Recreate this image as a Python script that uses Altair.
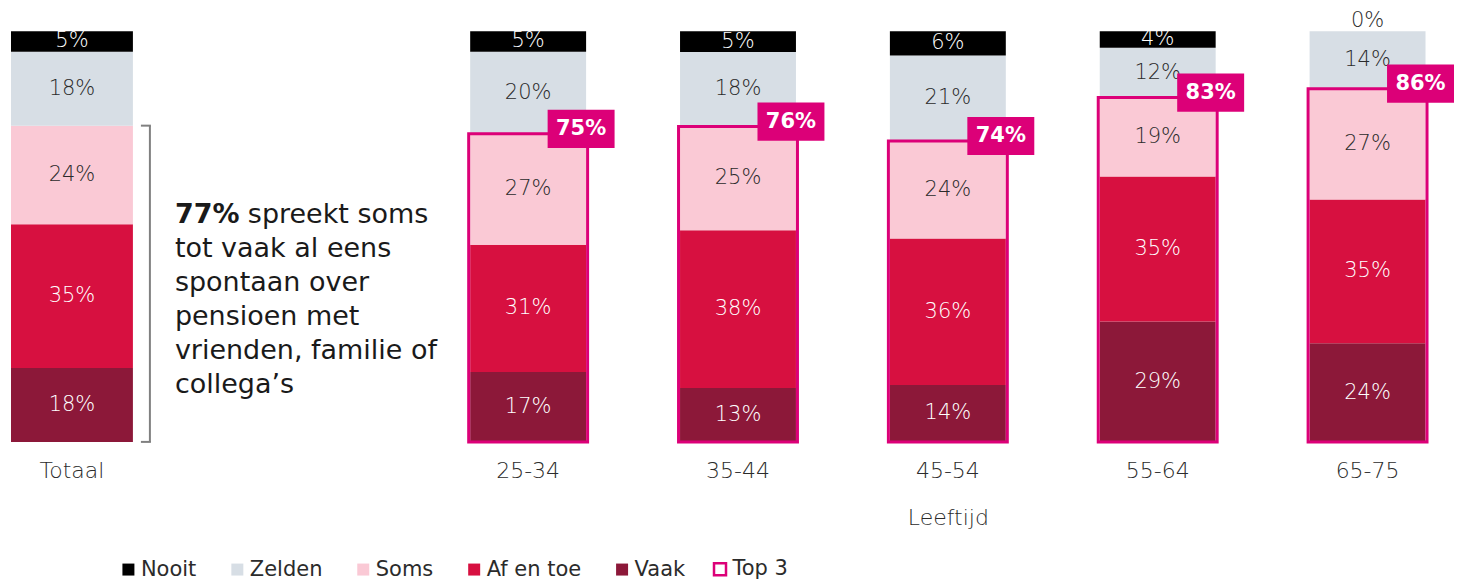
import altair as alt
import pandas as pd

FONT = "DejaVu Sans"
LIGHT = 200

groups = ["Totaal", "25-34", "35-44", "45-54", "55-64", "65-75"]
age_groups = groups[1:]
stack_order = ["Vaak", "Af en toe", "Soms", "Zelden", "Nooit"]   # bottom -> top
legend_order = ["Nooit", "Zelden", "Soms", "Af en toe", "Vaak"]
seg_colors = ["#000000", "#D7DEE5", "#FAC9D5", "#D71040", "#8C1839"]
MAGENTA = "#DC0078"

vaak      = [18, 17, 13, 14, 29, 24]
af_en_toe = [35, 31, 38, 36, 35, 35]
soms      = [24, 27, 25, 24, 19, 27]
zelden    = [18, 20, 18, 21, 12, 14]
nooit     = [5, 5, 5, 6, 4, 0]
top3      = [75, 76, 74, 83, 86]
total_top3 = 77

annotation_bold = "77%"
annotation_first = "spreekt soms"
annotation_lines = ["tot vaak al eens", "spontaan over", "pensioen met",
                    "vrienden, familie of", "collega\u2019s"]
legend_top3 = "Top 3"
axis_title = "Leeftijd"

series = {"Vaak": vaak, "Af en toe": af_en_toe, "Soms": soms,
          "Zelden": zelden, "Nooit": nooit}
dark_cats = ("Nooit", "Af en toe", "Vaak")
rows = []
totals = {}
for gi, g in enumerate(groups):
    tot = sum(series[c][gi] for c in stack_order)
    totals[g] = tot
    cum = 0
    for oi, c in enumerate(stack_order):
        v = series[c][gi]
        rows.append(dict(group=g, category=c, value=v, order=oi,
                         y0=cum / tot, y1=(cum + v) / tot,
                         mid=(cum + v / 2) / tot, label=f"{v}%",
                         dark=c in dark_cats))
        cum += v
df = pd.DataFrame(rows)
df_left = df[df.group == "Totaal"]
df_right = df[df.group != "Totaal"]

df_top3 = pd.DataFrame({
    "group": age_groups,
    "top3": top3,
    "pos": [t / totals[g] for t, g in zip(top3, age_groups)],
    "label": [f"{t}%" for t in top3],
    "key": [legend_top3] * len(top3),
})

ysc = alt.Scale(domain=[0, 1], nice=False)
color_scale = alt.Scale(domain=legend_order, range=seg_colors)
label_color = alt.condition("datum.dark", alt.value("#FFFFFF"), alt.value("#2B2B2B"))

axis_common = dict(labelAngle=0, labelFontSize=22, labelFont=FONT, labelColor="#2B2B2B",
                   labelFontWeight=LIGHT, ticks=False, domain=False, labelPadding=19,
                   grid=False)
legend_common = dict(title=None, orient="none", symbolType="square", symbolSize=144,
                     labelFontSize=21, labelFont=FONT, labelColor="#2B2B2B",
                     labelOffset=2)

# ---------- left panel (Totaal + annotation) ----------
xl = alt.X("group:N", scale=alt.Scale(domain=["Totaal"], paddingInner=0, paddingOuter=0),
           axis=alt.Axis(title=None, **axis_common))

bars_l = alt.Chart(df_left).mark_bar(size=122).encode(
    x=xl,
    y=alt.Y("y0:Q", scale=ysc, axis=None),
    y2="y1:Q",
    color=alt.Color("category:N", scale=color_scale,
                    legend=alt.Legend(legendX=110, legendY=528, direction="horizontal",
                                      symbolStrokeWidth=0, columnPadding=30,
                                      **legend_common)),
)
labels_l = alt.Chart(df_left).transform_filter("datum.value > 0").mark_text(
    font=FONT, fontSize=21, fontWeight=LIGHT).encode(
    x=xl, y=alt.Y("mid:Q", scale=ysc), text="label:N", color=label_color)

df_br = pd.DataFrame({"y0": [0.0], "y1": [total_top3 / 100]})
df_ends = pd.DataFrame({"y": [0.0, total_top3 / 100]})
br_v = alt.Chart(df_br).mark_rule(color="#808080", strokeWidth=2).encode(
    x=alt.value(142), y="y0:Q", y2="y1:Q")
br_e = alt.Chart(df_ends).mark_rule(color="#808080", strokeWidth=2).encode(
    x=alt.value(133), x2=alt.value(143), y="y:Q")

ANN_SIZE = 27
t_bold = alt.Chart(pd.DataFrame({"t": [annotation_bold]})).mark_text(
    align="left", baseline="middle", font=FONT, fontSize=ANN_SIZE, fontWeight="bold",
    color="#1a1a1a").encode(x=alt.value(167), y=alt.value(184), text="t:N")
t_first = alt.Chart(pd.DataFrame({"t": [annotation_first]})).mark_text(
    align="left", baseline="middle", font=FONT, fontSize=ANN_SIZE,
    color="#1a1a1a").encode(x=alt.value(240), y=alt.value(184), text="t:N")
t_rest = alt.Chart(pd.DataFrame({"t": [0]})).mark_text(
    align="left", baseline="middle", font=FONT, fontSize=ANN_SIZE, lineHeight=34,
    color="#1a1a1a", text=annotation_lines).encode(x=alt.value(167), y=alt.value(218))

left = alt.layer(bars_l, labels_l, br_v, br_e, t_bold, t_first, t_rest).properties(
    width=128, height=411)

# ---------- right panel (age groups) ----------
xr = alt.X("group:N", scale=alt.Scale(domain=age_groups, paddingInner=0.4476, paddingOuter=0.05),
           axis=alt.Axis(title=axis_title, titleFontSize=22, titleFont=FONT,
                         titleFontWeight=LIGHT, titleColor="#2B2B2B", titlePadding=26,
                         **axis_common))

bars_r = alt.Chart(df_right).mark_bar(size=116).encode(
    x=xr,
    y=alt.Y("y0:Q", scale=ysc, axis=None),
    y2="y1:Q",
    color=alt.Color("category:N", scale=color_scale, legend=None),
)
labels_r = alt.Chart(df_right).transform_filter("datum.value > 0").mark_text(
    font=FONT, fontSize=21, fontWeight=LIGHT).encode(
    x=xr, y=alt.Y("mid:Q", scale=ysc), text="label:N", color=label_color)
zero_r = alt.Chart(df_right).transform_filter("datum.value == 0").mark_text(
    font=FONT, fontSize=21, fontWeight=LIGHT, dy=-10, color="#2B2B2B").encode(
    x=xr, y=alt.Y("y1:Q", scale=ysc), text="label:N")

box = alt.Chart(df_top3).mark_bar(size=119, fill="transparent", strokeWidth=3).encode(
    x=xr,
    y=alt.Y("pos:Q", scale=ysc),
    stroke=alt.Stroke("key:N", scale=alt.Scale(domain=[legend_top3], range=[MAGENTA]),
                      legend=alt.Legend(legendX=250, legendY=528, symbolStrokeWidth=2.5,
                                        **legend_common)),
)
BADGE = "M-1,-0.57H1V0.57H-1Z"
badge = alt.Chart(df_top3).mark_point(
    shape=BADGE, size=67 * 67, filled=True, color=MAGENTA, opacity=1, strokeWidth=0,
    xOffset=53, yOffset=-5).encode(x=xr, y=alt.Y("pos:Q", scale=ysc))
badge_t = alt.Chart(df_top3).mark_text(
    font=FONT, fontSize=21, fontWeight="bold", color="#FFFFFF", baseline="middle",
    xOffset=53, yOffset=-5).encode(x=xr, y=alt.Y("pos:Q", scale=ysc), text="label:N")

right = alt.layer(bars_r, labels_r, zero_r, box, badge, badge_t).properties(
    width=977, height=411)

chart = alt.hconcat(left, right, spacing=324, bounds="flush").resolve_scale(
    color="independent", stroke="independent"
).properties(
    padding={"left": 0, "top": 2, "right": 0, "bottom": 0}
).configure_view(stroke=None)

chart.save("out.html", embed_options={"renderer": "svg", "actions": False})
